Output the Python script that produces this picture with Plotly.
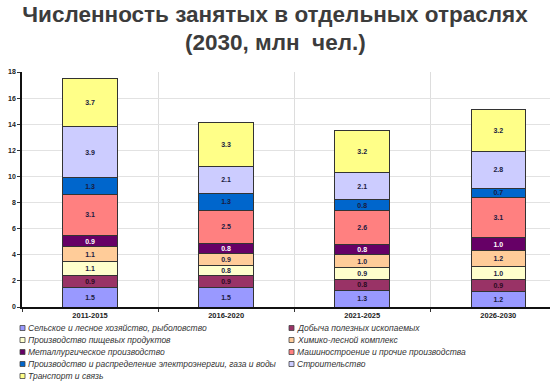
import plotly.graph_objects as go

categories = ["2011-2015", "2016-2020", "2021-2025", "2026-2030"]

title_line1 = "Численность занятых в отдельных отраслях"
title_line2 = "(2030, млн\u00a0 чел.)"

series_names = [
    "Сельское и лесное хозяйство, рыболовство",
    "Добыча полезных ископаемых",
    "Производство пищевых продуктов",
    "Химико-лесной комплекс",
    "Металлургическое производство",
    "Машиностроение и прочие производства",
    "Производство и распределение электроэнергии, газа и воды",
    "Строительство",
    "Транспорт и связь",
]

agriculture = [1.5, 1.5, 1.3, 1.2]
mining = [0.9, 0.9, 0.8, 0.9]
food = [1.1, 0.8, 0.9, 1.0]
chem_forest = [1.1, 0.9, 1.0, 1.2]
metallurgy = [0.9, 0.8, 0.8, 1.0]
machinery = [3.1, 2.5, 2.6, 3.1]
utilities = [1.3, 1.3, 0.8, 0.7]
construction = [3.9, 2.1, 2.1, 2.8]
transport = [3.7, 3.3, 3.2, 3.2]

series_values = [agriculture, mining, food, chem_forest, metallurgy,
                 machinery, utilities, construction, transport]

colors = ["#9999FF", "#993366", "#FFFFCC", "#FFCC99", "#660066",
          "#FF8080", "#0066CC", "#CCCCFF", "#FFFF88"]
label_colors = ["#1a1a40", "#2a0a20", "#1a1a40", "#1a1a40", "#FFFFFF",
                "#1a1a40", "#1a1a40", "#1a1a40", "#1a1a40"]

fig = go.Figure()
for name, vals, col, lc in zip(series_names, series_values, colors, label_colors):
    fig.add_trace(go.Bar(
        x=categories, y=vals, name=name,
        marker=dict(color=col, line=dict(color="#333333", width=1)),
        width=0.4,
        texttemplate="<b>%{y:.1f}</b>",
        textposition="inside", insidetextanchor="middle", textangle=0,
        textfont=dict(size=7, color=lc, family="Liberation Sans"),
        showlegend=False,
    ))

# Plot area in pixels: x 22..550, y 72..307
L, R, T, B = 22, 550, 72, 307
W, H = R - L, B - T

def px(x):
    return (x - L) / W

def py(y):
    return (B - y) / H

title_font = dict(size=22.5, color="#3c3c3c", family="Liberation Sans", weight="bold")

annotations = [dict(text=title_line2, xref="paper", yref="paper",
                    x=px(275), y=py(42), xanchor="center", yanchor="middle",
                    showarrow=False, font=title_font)]
shapes = []
col_x = [20, 289]
row_y = [328, 340, 352, 364, 376]
for i, (name, col) in enumerate(zip(series_names, colors)):
    cx = col_x[i % 2]
    ry = row_y[i // 2]
    shapes.append(dict(type="rect", xref="paper", yref="paper",
                       x0=px(cx), x1=px(cx + 5), y0=py(ry + 2.5), y1=py(ry - 2.5),
                       fillcolor=col, line=dict(color="#444444", width=0.8)))
    annotations.append(dict(text=name, xref="paper", yref="paper",
                            x=px(cx + 6), y=py(ry), xanchor="left", yanchor="middle",
                            showarrow=False,
                            font=dict(size=8.5, color="#333333", family="Liberation Sans",
                                      style="italic")))

fig.update_layout(
    width=550, height=381,
    margin=dict(l=L, r=550 - R, t=T, b=381 - B),
    paper_bgcolor="white", plot_bgcolor="white",
    barmode="stack",
    uniformtext=dict(minsize=7, mode="show"),
    title=dict(text=title_line1, x=0.5, xanchor="center",
               y=1 - 14 / 381, yanchor="middle", font=title_font),
    xaxis=dict(type="category", range=[-0.5, 3.38], tickson="boundaries",
               showgrid=True, gridcolor="#dddddd", gridwidth=1,
               ticks="outside", ticklen=3, tickcolor="#333",
               showline=True, linecolor="#111", linewidth=2,
               tickfont=dict(size=7.5, color="#222", family="Liberation Sans", weight="bold")),
    yaxis=dict(range=[0, 18], dtick=2, showgrid=True, gridcolor="#e2e2e2",
               showline=True, linecolor="#111", linewidth=1.5,
               ticks="outside", ticklen=3, tickcolor="#333", zeroline=False,
               tickfont=dict(size=7, color="#222", family="Liberation Sans", weight="bold")),
    annotations=annotations,
    shapes=shapes,
)

fig.write_html("out.html", config={"displayModeBar": False},
               post_script="document.body.style.margin='0';document.body.style.overflow='hidden';")
